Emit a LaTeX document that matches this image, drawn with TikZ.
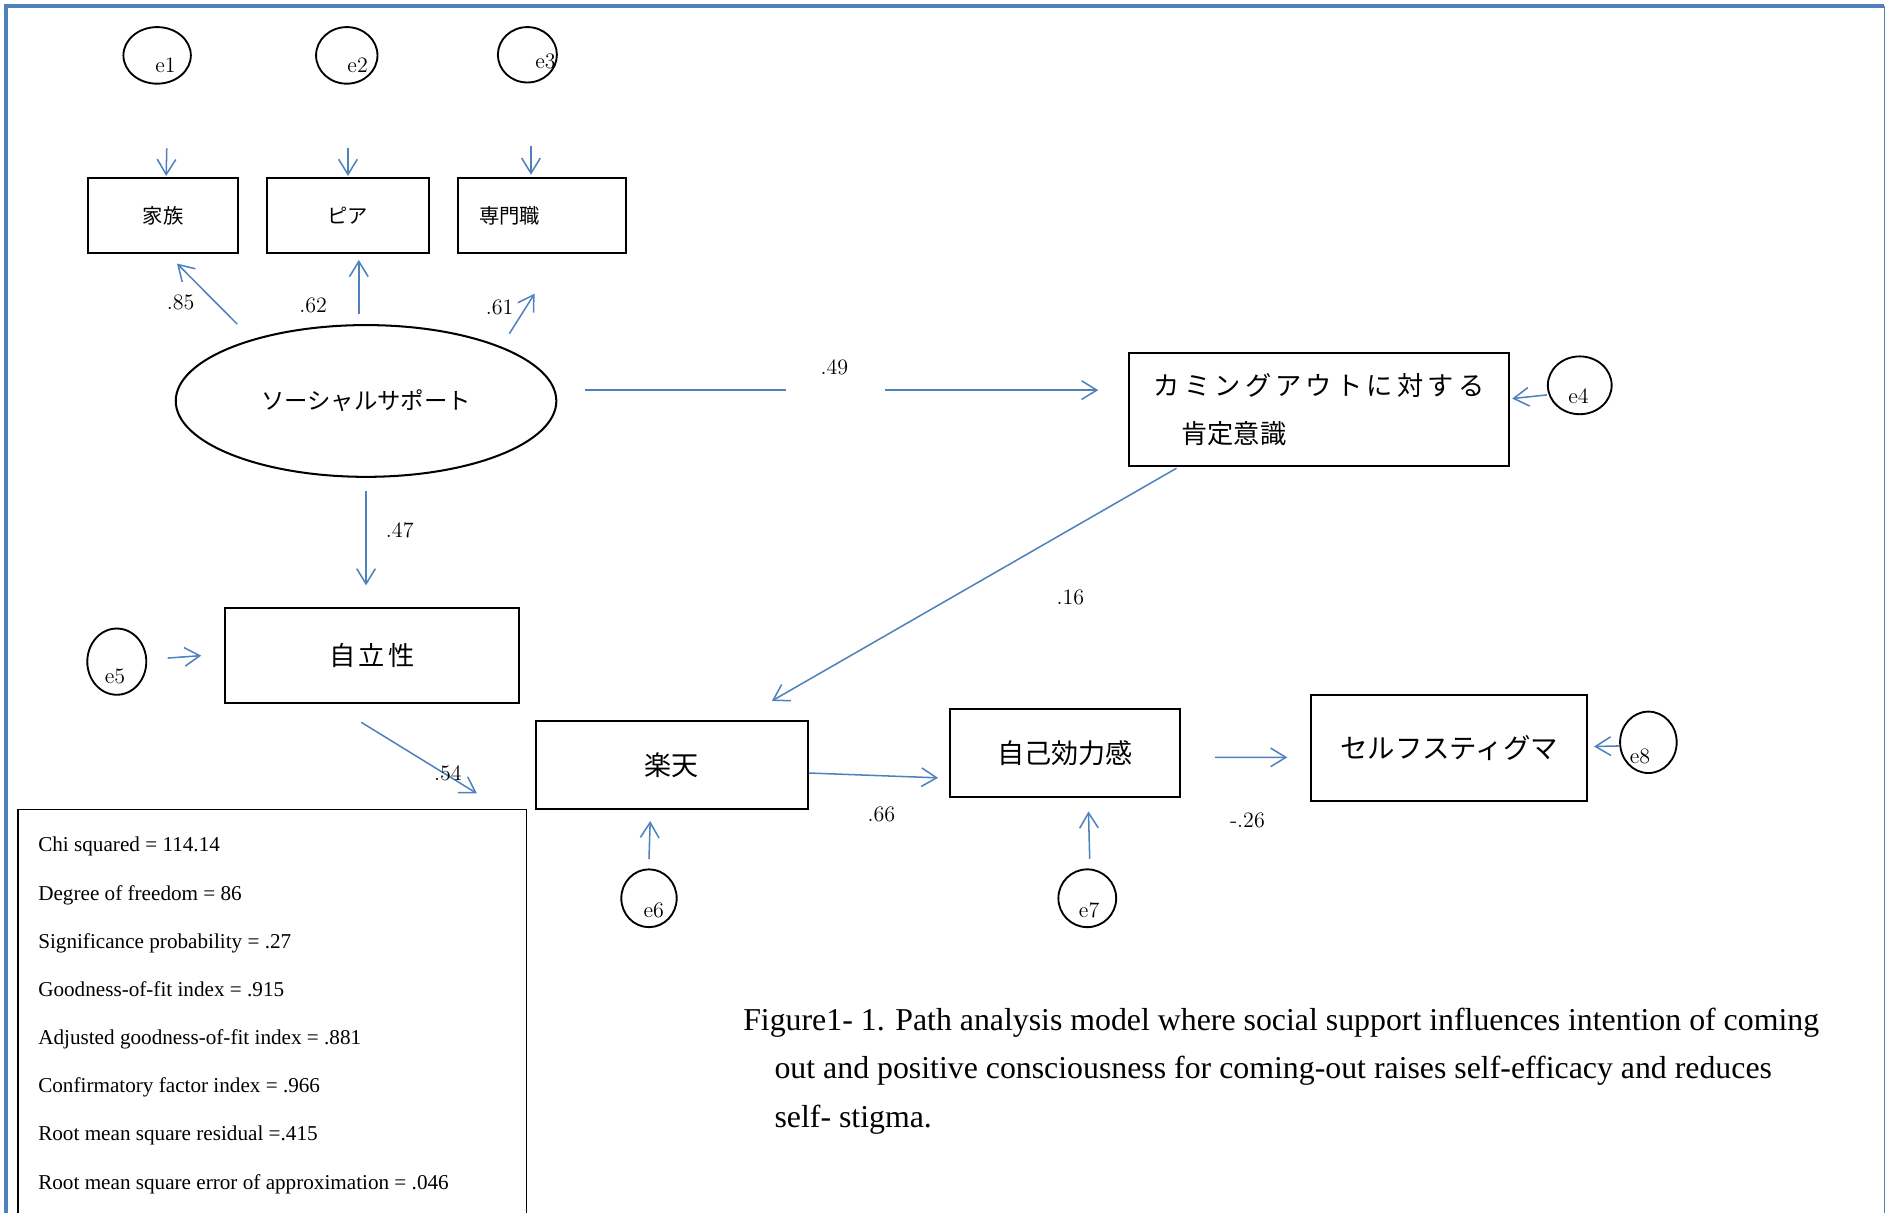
\documentclass[tikz,border=0pt]{standalone}
\usepackage{fontspec}
\newfontfamily\tms{Liberation Serif}
\newfontfamily\jp{Noto Sans CJK JP}
\newfontfamily\jpwide[LetterSpace=12]{Noto Sans CJK JP}
\newfontfamily\jpwider[LetterSpace=16]{Noto Sans CJK JP}
\usetikzlibrary{shapes, positioning, calc, arrows.meta}
\definecolor{sblue}{RGB}{79,129,189}

\begin{document}
\begin{tikzpicture}[x=0.025cm, y=-0.025cm,
        varbox/.style={draw, rectangle, line width=1.2pt, inner sep=0pt, text centered},
        latent/.style={draw, ellipse, line width=1.2pt, inner sep=0pt},
        errvar/.style={draw, ellipse, line width=1.1pt, inner sep=0pt},
        errlbl/.style={inner sep=0pt, font=\fontsize{13}{15}\selectfont},
        conn/.style={draw=sblue, line width=0.9pt, -{Straight Barb[length=9pt,width=11pt]}},
        coef/.style={inner sep=0pt, font=\fontsize{13}{15}\selectfont},
        fitline/.style={anchor=base west, inner sep=0pt, font=\tms\fontsize{12.5}{15}\selectfont},
        capline/.style={anchor=base west, inner sep=0pt, font=\tms\fontsize{18.8}{22}\selectfont}]
        		\clip (0,0) rectangle (1568,1007);
        		\draw[sblue, line width=2.4pt] (5,1010) -- (5,5) -- (1565,5);
        		\draw[sblue, line width=0.8pt] (1565,5) -- (1565,1010);

        		\node (Support) at (304,333) [latent, minimum width=7.9cm, minimum height=3.15cm, font=\jp\fontsize{13.8}{16}\selectfont]{ソーシャルサポート};

        		\node (Family) at ($(Support) + (-168.5,-154)$) [varbox, minimum width=3.125cm, minimum height=1.55cm, font=\jp\fontsize{12}{14}\selectfont]{家族};
        		\node (Peer) at ($(Support) + (-15,-154)$) [varbox, minimum width=3.35cm, minimum height=1.55cm, font=\jp\fontsize{12}{14}\selectfont]{ピア};
        		\node (Expert) at ($(Support) + (146,-154)$) [varbox, minimum width=3.5cm, minimum height=1.55cm, inner xsep=0.45cm, text width=2.6cm, align=left, font=\jp\fontsize{12}{14}\selectfont]{専門職};

        		\node (E1) at ($(Family) + (-5,-133)$) [errvar, minimum width=1.4cm, minimum height=1.175cm, label={[errlbl, xshift=5pt, yshift=-5.7pt]center:e1}]{};
        		\node (E2) at ($(Peer) + (-1,-133)$) [errvar, minimum width=1.275cm, minimum height=1.175cm, label={[errlbl, xshift=6.4pt, yshift=-5.7pt]center:e2}]{};
        		\node (E3) at ($(Expert) + (-12,-133.5)$) [errvar, minimum width=1.225cm, minimum height=1.15cm, label={[errlbl, xshift=10.7pt, yshift=-3.9pt]center:e3}]{};
        		\draw[conn] ($(E1.south) + (8,53)$) -- ($(Family.north) + (2.5,-1)$);
        		\draw[conn] ($(E2.south) + (1,53)$) -- ($(Peer.north) + (0,-1)$);
        		\draw[conn] ($(E3.south) + (3,52)$) -- ($(Expert.north) + (-9,-2)$);

        		\draw[conn] ($(Support.north) + (-107,0)$) -- ($(Family.south) + (11.5,8)$);
        		\draw[conn] ($(Support.north) + (-6,-8)$) -- ($(Peer.south) + (9,5)$);
        		\draw[conn] ($(Support.north) + (119,8)$) -- ($(Expert.south) + (-6,33)$);
        		\node (C85) at ($(Support) + (-154,-82)$) [coef]{.85};
        		\node (C62) at ($(Support) + (-44,-79)$) [coef]{.62};
        		\node (C61) at ($(Support) + (111,-78)$) [coef]{.61};

        		\node (ComingOut) at ($(Support) + (791.5,7)$) [varbox, minimum width=7.875cm, minimum height=2.35cm, align=left, font=\fontsize{15.5}{28.45}\selectfont]{{\jpwider カミングアウトに対する}\\\hspace*{16.4pt}{\jp 肯定意識}};
        		\node (E4) at ($(ComingOut) + (216.5,-20)$) [errvar, minimum width=1.325cm, minimum height=1.2cm, label={[errlbl, xshift=-0.7pt, yshift=-6.4pt]center:e4}]{};
        		\draw[sblue, line width=0.9pt] ($(Support.east) + (23,-9)$) -- ($(Support.east) + (190,-9)$);
        		\draw[conn] ($(ComingOut.west) + (-202,-16)$) -- ($(ComingOut.west) + (-25,-16)$);
        		\node (C49) at ($(Support) + (389,-28)$) [coef]{.49};
        		\draw[conn] ($(E4.west) + (0,8)$) -- ($(ComingOut.east) + (2,-9)$);

        		\node (Autonomy) at ($(Support) + (5,211.5)$) [varbox, minimum width=6.1cm, minimum height=1.975cm, font=\jpwide\fontsize{15.5}{18}\selectfont]{自立性};
        		\draw[conn] ($(Support.south) + (0,11)$) -- ($(Autonomy.north) + (-5,-18)$);
        		\node (C47) at ($(Support) + (28,107)$) [coef]{.47};
        		\node (E5) at ($(Autonomy) + (-212,5)$) [errvar, minimum width=1.225cm, minimum height=1.375cm, label={[errlbl, xshift=-1.1pt, yshift=-8.9pt]center:e5}]{};
        		\draw[conn] ($(E5.east) + (17,-3)$) -- ($(Autonomy.west) + (-19,0)$);

        		\node (Optimism) at ($(Autonomy) + (249,91)$) [varbox, minimum width=5.65cm, minimum height=1.825cm, font=\jp\fontsize{16}{18}\selectfont]{楽天};
        		\draw[conn] ($(Autonomy.south) + (-9,15)$) -- ($(Optimism.west) + (-48,23.5)$);
        		\node (C54) at ($(Autonomy) + (63,97.5)$) [coef]{.54};
        		\draw[conn] ($(ComingOut.south west) + (40,1)$) -- ($(Optimism.north) + (83,-16)$);
        		\node (C16) at ($(ComingOut) + (-206.5,156)$) [coef]{.16};
        		\node (E6) at ($(Optimism) + (-19,110.5)$) [errvar, minimum width=1.15cm, minimum height=1.2cm, label={[errlbl, xshift=2.8pt, yshift=-7.1pt]center:e6}]{};
        		\draw[conn] ($(E6.north) + (0,-8)$) -- ($(Optimism.south) + (-18,9)$);

        		\node (Efficacy) at ($(Optimism) + (326.5,-10)$) [varbox, minimum width=4.775cm, minimum height=1.825cm, font=\jp\fontsize{16}{18}\selectfont]{自己効力感};
        		\draw[conn] ($(Optimism.east) + (0,6.5)$) -- ($(Efficacy.west) + (-9,20.5)$);
        		\node (C66) at ($(Optimism) + (174,40.5)$) [coef]{.66};
        		\node (E7) at ($(Efficacy) + (18.5,120.5)$) [errvar, minimum width=1.2cm, minimum height=1.2cm, label={[errlbl, xshift=1.1pt, yshift=-7.1pt]center:e7}]{};
        		\draw[conn] ($(E7.north) + (2,-8)$) -- ($(Efficacy.south) + (19.5,11)$);

        		\node (Stigma) at ($(Efficacy) + (319,-4.5)$) [varbox, minimum width=5.725cm, minimum height=2.2cm, font=\jp\fontsize{16.2}{18}\selectfont]{セルフスティグマ};
        		\draw[conn] ($(Efficacy.east) + (28,3.5)$) -- ($(Stigma.west) + (-19,8)$);
        		\node (C26) at ($(Efficacy) + (151.5,55.5)$) [coef]{-.26};
        		\node (E8) at ($(Stigma) + (165.5,-4.5)$) [errvar, minimum width=1.175cm, minimum height=1.275cm, label={[errlbl, xshift=-5pt, yshift=-8.2pt]center:e8}]{};
        		\draw[conn] ($(E8.west) + (0,3)$) -- ($(Stigma.east) + (5,-1)$);

        		% fit indices
        		\node (StatsBox) at (226,856) [draw, rectangle, line width=0.6pt, minimum width=10.55cm, minimum height=9.2cm]{};
        		\node (Chi) at ($(StatsBox.north west) + (17,36)$) [fitline]{Chi squared = 114.14};
        		\node (Df) at ($(Chi.base west) + (0,40)$) [fitline]{Degree of freedom = 86};
        		\node (Prob) at ($(Df.base west) + (0,40)$) [fitline]{Significance probability = .27};
        		\node (Gfi) at ($(Prob.base west) + (0,40)$) [fitline]{Goodness-of-fit index = .915};
        		\node (Agfi) at ($(Gfi.base west) + (0,40)$) [fitline]{Adjusted goodness-of-fit index = .881};
        		\node (Cfi) at ($(Agfi.base west) + (0,40)$) [fitline]{Confirmatory factor index = .966};
        		\node (Rmr) at ($(Cfi.base west) + (0,40)$) [fitline]{Root mean square residual =.415};
        		\node (Rmsea) at ($(Rmr.base west) + (0,40)$) [fitline]{Root mean square error of approximation = .046};

        		% caption
        		\node (CapA) at (617,856) [capline]{Figure1- 1. Path analysis model where social support influences intention of coming};
        		\node (CapB) at ($(CapA.base west) + (26,40)$) [capline]{out and positive consciousness for coming-out raises self-efficacy and reduces};
        		\node (CapC) at ($(CapB.base west) + (0,40)$) [capline]{self- stigma.};
		    \end{tikzpicture}
\end{document}
